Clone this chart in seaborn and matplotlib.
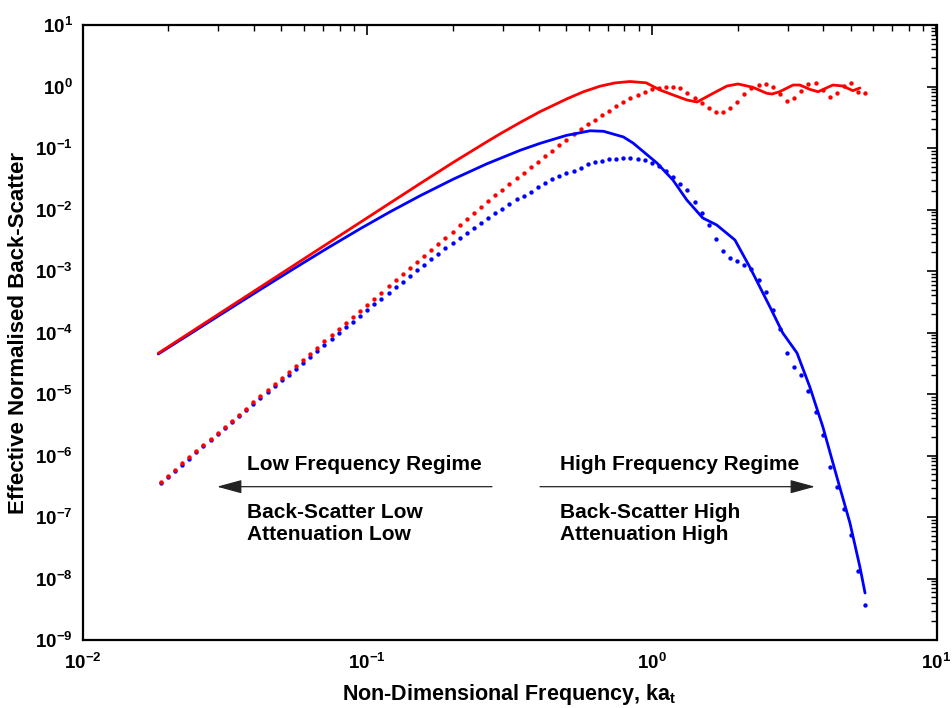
import numpy as np
import pandas as pd
import matplotlib
matplotlib.use("Agg")
import matplotlib.pyplot as plt
from matplotlib.ticker import FixedLocator, FixedFormatter, LogLocator, NullFormatter
import seaborn as sns

# ---------------- data (log10 values) ----------------
# solid curves
log_ka_red_solid = [-1.734, -1.55, -1.377, -1.26, -1.142, -1.025, -0.92, -0.815, -0.698, -0.58,
                    -0.533, -0.46, -0.393, -0.298, -0.24, -0.182, -0.13, -0.077, -0.02, 0.029,
                    0.075, 0.124, 0.159, 0.215, 0.264, 0.303, 0.355, 0.404, 0.422, 0.449,
                    0.496, 0.520, 0.555, 0.584, 0.636, 0.671, 0.706, 0.731]
log_bs_red_solid = [-4.338, -3.786, -3.267, -2.916, -2.562, -2.211, -1.896, -1.581, -1.235, -0.900,
                    -0.770, -0.578, -0.410, -0.200, -0.085, 0.005, 0.058, 0.081, 0.060, -0.057,
                    -0.138, -0.220, -0.252, -0.111, 0.008, 0.041, -0.013, -0.111, -0.122, -0.085,
                    0.024, 0.024, -0.046, -0.085, 0.024, 0.008, -0.068, -0.024]

log_ka_blue_solid = [-1.734, -1.55, -1.377, -1.26, -1.142, -1.025, -0.92, -0.815, -0.698, -0.58,
                     -0.463, -0.393, -0.30, -0.217, -0.17, -0.10, -0.066, 0.018, 0.074, 0.123,
                     0.179, 0.228, 0.292, 0.344, 0.415, 0.460, 0.510, 0.555, 0.601, 0.650,
                     0.696, 0.731, 0.749]
log_bs_blue_solid = [-4.350, -3.811, -3.306, -2.969, -2.635, -2.314, -2.039, -1.779, -1.508, -1.258,
                     -1.038, -0.925, -0.795, -0.720, -0.728, -0.820, -0.919, -1.244, -1.520, -1.846,
                     -2.138, -2.252, -2.496, -2.935, -3.585, -4.008, -4.333, -4.886, -5.537, -6.350,
                     -7.098, -7.813, -8.236]

# dotted curves (sample points)
log_ka_dots = [-1.725, -1.700, -1.675, -1.650, -1.625, -1.600, -1.575, -1.550, -1.525, -1.500,
               -1.475, -1.450, -1.425, -1.400, -1.375, -1.350, -1.325, -1.300, -1.275, -1.250,
               -1.225, -1.200, -1.175, -1.150, -1.125, -1.100, -1.075, -1.050, -1.025, -1.000,
               -0.975, -0.950, -0.925, -0.900, -0.875, -0.850, -0.825, -0.800, -0.775, -0.750,
               -0.725, -0.700, -0.675, -0.650, -0.625, -0.600, -0.575, -0.550, -0.525, -0.500,
               -0.475, -0.450, -0.425, -0.400, -0.375, -0.350, -0.325, -0.300, -0.275, -0.250,
               -0.225, -0.200, -0.175, -0.150, -0.125, -0.100, -0.075, -0.050, -0.025, 0.000,
               0.025, 0.050, 0.075, 0.100, 0.125, 0.150, 0.175, 0.200, 0.225, 0.250,
               0.275, 0.300, 0.325, 0.350, 0.375, 0.400, 0.425, 0.450, 0.475, 0.500,
               0.525, 0.550, 0.575, 0.600, 0.625, 0.650, 0.675, 0.700, 0.725, 0.750]
log_bs_red_dots = [-6.427, -6.328, -6.228, -6.129, -6.030, -5.931, -5.832, -5.732, -5.633, -5.534,
                   -5.435, -5.335, -5.236, -5.137, -5.038, -4.938, -4.839, -4.740, -4.640, -4.541,
                   -4.442, -4.343, -4.244, -4.144, -4.045, -3.946, -3.847, -3.747, -3.648, -3.549,
                   -3.450, -3.350, -3.251, -3.152, -3.053, -2.953, -2.854, -2.755, -2.656, -2.556,
                   -2.457, -2.358, -2.259, -2.159, -2.060, -1.961, -1.862, -1.762, -1.675, -1.580,
                   -1.493, -1.400, -1.312, -1.225, -1.135, -1.045, -0.957, -0.865, -0.775, -0.692,
                   -0.615, -0.540, -0.468, -0.392, -0.318, -0.252, -0.192, -0.135, -0.085, -0.046,
                   -0.020, -0.003, -0.003, -0.032, -0.102, -0.180, -0.265, -0.354, -0.410, -0.420,
                   -0.352, -0.255, -0.122, -0.030, 0.024, 0.036, -0.013, -0.130, -0.236, -0.192,
                   -0.073, 0.041, 0.052, -0.060, -0.166, -0.111, 0.008, 0.052, -0.085, -0.100]
log_bs_blue_dots = [-6.442, -6.344, -6.245, -6.147, -6.049, -5.951, -5.853, -5.754, -5.656, -5.558,
                    -5.461, -5.363, -5.266, -5.169, -5.072, -4.974, -4.877, -4.780, -4.683, -4.587,
                    -4.491, -4.395, -4.299, -4.202, -4.106, -4.011, -3.917, -3.822, -3.729, -3.636,
                    -3.543, -3.449, -3.356, -3.263, -3.171, -3.079, -2.989, -2.900, -2.808, -2.718,
                    -2.632, -2.548, -2.466, -2.380, -2.306, -2.222, -2.145, -2.065, -1.998, -1.917,
                    -1.834, -1.776, -1.710, -1.635, -1.572, -1.506, -1.454, -1.404, -1.370, -1.322,
                    -1.268, -1.226, -1.208, -1.184, -1.179, -1.164, -1.163, -1.179, -1.195, -1.247,
                    -1.293, -1.366, -1.467, -1.580, -1.683, -1.885, -2.058, -2.260, -2.485, -2.670,
                    -2.787, -2.839, -2.895, -2.975, -3.140, -3.345, -3.635, -3.945, -4.330, -4.560,
                    -4.691, -4.955, -5.290, -5.660, -6.190, -6.505, -6.870, -7.290, -7.870, -8.430]

x_tick_exps = [-2, -1, 0, 1]
y_tick_exps = [-9, -8, -7, -6, -5, -4, -3, -2, -1, 0, 1]

x_label = "Non-Dimensional Frequency, ka$_\\mathregular{t}$"
y_label = "Effective Normalised Back-Scatter"

# ---------------- style ----------------
sns.set_style("white")
plt.rcParams["font.family"] = ["Liberation Sans", "DejaVu Sans"]
plt.rcParams["font.weight"] = "bold"
plt.rcParams["text.color"] = "black"
plt.rcParams["axes.labelcolor"] = "black"
plt.rcParams["mathtext.fontset"] = "custom"
plt.rcParams["mathtext.rm"] = "Liberation Sans:bold"
plt.rcParams["mathtext.bf"] = "Liberation Sans:bold"
plt.rcParams["mathtext.it"] = "Liberation Sans:bold"
plt.rcParams["mathtext.default"] = "bf"

fig = plt.figure(figsize=(9.52, 7.08), dpi=100)
ax = fig.add_axes([82.5 / 952, 1 - 640 / 708, 854 / 952, 615 / 708])
ax.set_xscale("log")
ax.set_yscale("log")

RED = "#ff0000"
BLUE = "#0000ff"

df_red = pd.DataFrame({"ka": 10 ** np.array(log_ka_red_solid), "bs": 10 ** np.array(log_bs_red_solid)})
df_blue = pd.DataFrame({"ka": 10 ** np.array(log_ka_blue_solid), "bs": 10 ** np.array(log_bs_blue_solid)})
df_dots = pd.DataFrame({"ka": 10 ** np.array(log_ka_dots),
                        "red": 10 ** np.array(log_bs_red_dots),
                        "blue": 10 ** np.array(log_bs_blue_dots)})

sns.lineplot(data=df_blue, x="ka", y="bs", color=BLUE, lw=2.0, estimator=None, sort=False, ax=ax)
sns.lineplot(data=df_red, x="ka", y="bs", color=RED, lw=2.0, estimator=None, sort=False, ax=ax)
sns.scatterplot(data=df_dots, x="ka", y="blue", color=BLUE, s=10, marker="o", linewidth=0, ax=ax)
sns.scatterplot(data=df_dots, x="ka", y="red", color=RED, s=10, marker="o", linewidth=0, ax=ax)

ax.set_xlim(10.0 ** x_tick_exps[0], 10.0 ** x_tick_exps[-1])
ax.set_ylim(10.0 ** y_tick_exps[0], 10.0 ** y_tick_exps[-1])

ax.xaxis.set_major_locator(FixedLocator([10.0 ** e for e in x_tick_exps]))
ax.xaxis.set_major_formatter(FixedFormatter([r"$\mathbf{10^{%d}}$" % e for e in x_tick_exps]))
ax.yaxis.set_major_locator(FixedLocator([10.0 ** e for e in y_tick_exps]))
ax.yaxis.set_major_formatter(FixedFormatter([r"$\mathbf{10^{%d}}$" % e for e in y_tick_exps]))
ax.xaxis.set_minor_locator(LogLocator(base=10, subs=np.arange(2, 10), numticks=50))
ax.yaxis.set_minor_locator(LogLocator(base=10, subs=np.arange(2, 10), numticks=50))
ax.xaxis.set_minor_formatter(NullFormatter())
ax.yaxis.set_minor_formatter(NullFormatter())

ax.tick_params(which="both", direction="in", top=True, right=True, color="black",
               labelsize=13.5, labelcolor="black")
ax.tick_params(which="major", length=7, width=1.2)
ax.tick_params(which="minor", length=4, width=1.0)
ax.tick_params(axis="y", which="major", pad=7)
ax.tick_params(axis="x", which="major", pad=9)

for s in ax.spines.values():
    s.set_visible(True)
    s.set_color("black")
    s.set_linewidth(1.6)

ax.set_xlabel(x_label, fontsize=15.5, fontweight="bold", color="black")
ax.set_ylabel(y_label, fontsize=16, fontweight="bold", color="black")
ax.xaxis.set_label_coords(0.5, -0.068)
ax.yaxis.set_label_coords(-0.063, 0.5)

# annotations (axes-fraction placement)
tkw = dict(transform=ax.transAxes, fontsize=15, fontweight="bold", color="black", va="baseline", ha="left")
ax.text(0.1923, 0.2764, "Low Frequency Regime", **tkw)
ax.text(0.1923, 0.1989, "Back-Scatter Low", **tkw)
ax.text(0.1923, 0.1626, "Attenuation Low", **tkw)
ax.text(0.5591, 0.2764, "High Frequency Regime", **tkw)
ax.text(0.5591, 0.1989, "Back-Scatter High", **tkw)
ax.text(0.5591, 0.1626, "Attenuation High", **tkw)

akw = dict(arrowstyle="-|>,head_length=1.1,head_width=0.3", color="#222222", lw=0.9,
           mutation_scale=14, shrinkA=0, shrinkB=0)
ax.annotate("", xy=(0.1575, 0.2493), xytext=(0.4795, 0.2493), xycoords="axes fraction",
            textcoords="axes fraction", arrowprops=akw)
ax.annotate("", xy=(0.8577, 0.2493), xytext=(0.5357, 0.2493), xycoords="axes fraction",
            textcoords="axes fraction", arrowprops=akw)

fig.savefig("out.png", dpi=100)
